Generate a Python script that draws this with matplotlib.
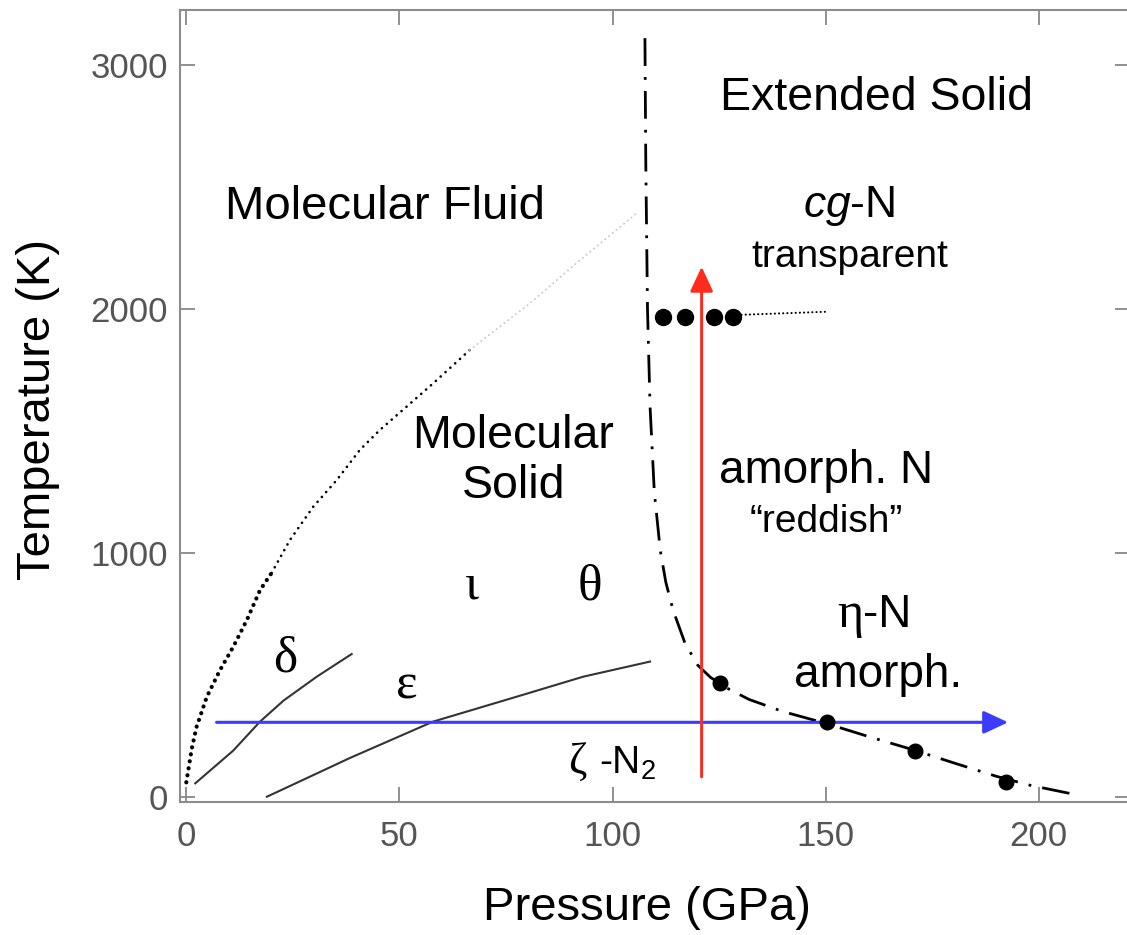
import matplotlib
matplotlib.use('Agg')
import matplotlib.pyplot as plt
from matplotlib.patches import FancyArrowPatch

plt.rcParams['font.family'] = ['Liberation Sans', 'DejaVu Sans']
plt.rcParams['mathtext.fontset'] = 'custom'
plt.rcParams['mathtext.rm'] = 'Liberation Sans'
plt.rcParams['mathtext.it'] = 'Liberation Sans:italic'
plt.rcParams['lines.scale_dashes'] = False

# melting curve (dotted)
melt_p_bold = [0.0, 1.3, 2.4, 4.8, 7.9, 11.0, 14.2, 17.3, 20.0]
melt_t_bold = [60, 200, 287, 410, 520, 615, 725, 848, 918]
melt_p_mid = [20.0, 24.3, 29.8, 35.3, 40.7, 45.4, 51.7, 57.9, 66.5]
melt_t_mid = [918, 1053, 1190, 1299, 1422, 1504, 1600, 1695, 1832]
melt_p_faint = [66.5, 80.6, 92.4, 105.7]
melt_t_faint = [1832, 2023, 2201, 2393]

# solid-solid boundaries
delta_p = [2.1, 11.0, 17.3, 22.8, 30.6, 38.8]
delta_t = [56, 190, 309, 395, 493, 586]
eps_p = [18.9, 38.4, 57.9, 77.5, 93.1, 108.8]
eps_t = [1, 160, 309, 411, 493, 555]

# molecular / extended boundary (dash-dot)
bnd_p = [107.6, 107.8, 108.2, 108.8, 109.8, 111.2, 112.5, 114.2, 117.0, 120.0,
         123.0, 127.0, 132.0, 140.0, 150.4, 160.0, 170.8, 180.0, 190.0, 198.0, 208.0]
bnd_t = [3110, 2600, 2000, 1600, 1250, 1010, 880, 766, 630, 540,
         490, 445, 400, 350, 300, 248, 192, 140, 85, 48, 12]

# data points
cg_p = [111.9, 117.0, 123.9, 128.3]
cg_t = [1968, 1968, 1968, 1968]
cgline_p = [128.3, 150.6]
cgline_t = [1975, 1989]
eta_p = [125.2, 150.4, 170.9, 192.4]
eta_t = [468, 306, 188, 60]

# experimental paths
blue_p = [7.1, 192.8]
blue_t = [306, 306]
red_p = [120.9, 120.9]
red_t = [83, 2173]

xticks = [0, 50, 100, 150, 200]
yticks = [0, 1000, 2000, 3000]

fig = plt.figure(figsize=(11.27, 9.35), dpi=100)
ax = fig.add_axes([180 / 1127, 133 / 935, 950 / 1127, 792 / 935])
ax.set_xlim(-1.48, 221.4)
ax.set_ylim(-20.5, 3225.4)

for s in ax.spines.values():
    s.set_color('#8c8c8c')
    s.set_linewidth(1.5)

ax.set_xticks(xticks)
ax.set_yticks(yticks)
ax.tick_params(direction='in', length=11, width=1.3, color='#888888',
               labelsize=25, labelcolor='#555555', top=True, right=True)
ax.tick_params(axis='x', pad=13)
ax.tick_params(axis='y', pad=8.6)

ax.set_xlabel('Pressure (GPa)', fontsize=34)
ax.xaxis.set_label_coords(0.491, -0.106)
ax.set_ylabel('Temperature (K)', fontsize=34)
ax.yaxis.set_label_coords(-0.1263, 0.496)

# curves
ax.plot(melt_p_bold, melt_t_bold, color='black', lw=3.0,
        linestyle=(0, (0.1, 5.0)), dash_capstyle='round')
ax.plot(melt_p_mid, melt_t_mid, color='black', lw=1.9,
        linestyle=(0, (0.1, 4.6)), dash_capstyle='round')
ax.plot(melt_p_faint, melt_t_faint, color='#c8c8c8', lw=1.4,
        linestyle=(0, (0.1, 3.4)), dash_capstyle='round')
ax.plot(delta_p, delta_t, color='#333333', lw=1.5)
ax.plot(eps_p, eps_t, color='#333333', lw=1.5)
ax.plot(bnd_p, bnd_t, color='black', lw=2.0, linestyle=(0, (20, 8, 2, 8)))
ax.plot(cgline_p, cgline_t, color='black', lw=1.5,
        linestyle=(0, (0.1, 2.9)), dash_capstyle='round')

# arrows
ax.add_patch(FancyArrowPatch((blue_p[0], blue_t[0]), (blue_p[1], blue_t[1]),
                             arrowstyle='-|>,head_length=15,head_width=7',
                             mutation_scale=1, color='#3c3cff', lw=2.2,
                             shrinkA=0, shrinkB=0, zorder=3))
ax.add_patch(FancyArrowPatch((red_p[0], red_t[0]), (red_p[1], red_t[1]),
                             arrowstyle='-|>,head_length=15,head_width=7',
                             mutation_scale=1, color='#ff2b1c', lw=2.2,
                             shrinkA=0, shrinkB=0, zorder=3))

ax.plot(cg_p, cg_t, 'o', color='black', ms=11.5, zorder=4)
ax.plot(eta_p, eta_t, 'o', color='black', ms=10.5, zorder=4)

# region labels
ax.text(46.6, 2369, 'Molecular Fluid', fontsize=34, ha='center', va='baseline')
ax.text(161.9, 2816, 'Extended Solid', fontsize=33.5, ha='center', va='baseline')
ax.text(155.5, 2378, r'$\mathit{cg}$-N', fontsize=32, ha='center', va='baseline')
ax.text(155.7, 2173, 'transparent', fontsize=28, ha='center', va='baseline')
ax.text(76.7, 1432, 'Molecular', fontsize=33.5, ha='center', va='baseline')
ax.text(76.7, 1227, 'Solid', fontsize=33.5, ha='center', va='baseline')
ax.text(150.2, 1286, 'amorph. N', fontsize=33, ha='center', va='baseline')
ax.text(150.2, 1087, '\u201creddish\u201d', fontsize=28, ha='center', va='baseline')
ax.text(158.8, 695, '\u03b7', fontsize=36, family='Liberation Serif', ha='right', va='baseline')
ax.text(158.8, 695, '-N', fontsize=33, ha='left', va='baseline')
ax.text(162.3, 452, 'amorph.', fontsize=33, ha='center', va='baseline')
ax.text(23.3, 514, '\u03b4', fontsize=37, family='Liberation Serif', ha='center', va='baseline')
ax.text(51.7, 405, '\u03b5', fontsize=37, family='Liberation Serif', ha='center', va='baseline')
ax.text(66.9, 812, '\u03b9', fontsize=37, family='Liberation Serif', ha='center', va='baseline')
ax.text(94.7, 810, '\u03b8', fontsize=37, family='Liberation Serif', ha='center', va='baseline')
ax.text(94.0, 97, '\u03b6', fontsize=32, family='Liberation Serif', ha='right', va='baseline')
ax.text(96.8, 97, '-N$_2$', fontsize=28, ha='left', va='baseline')

fig.savefig('out.png', dpi=100)
